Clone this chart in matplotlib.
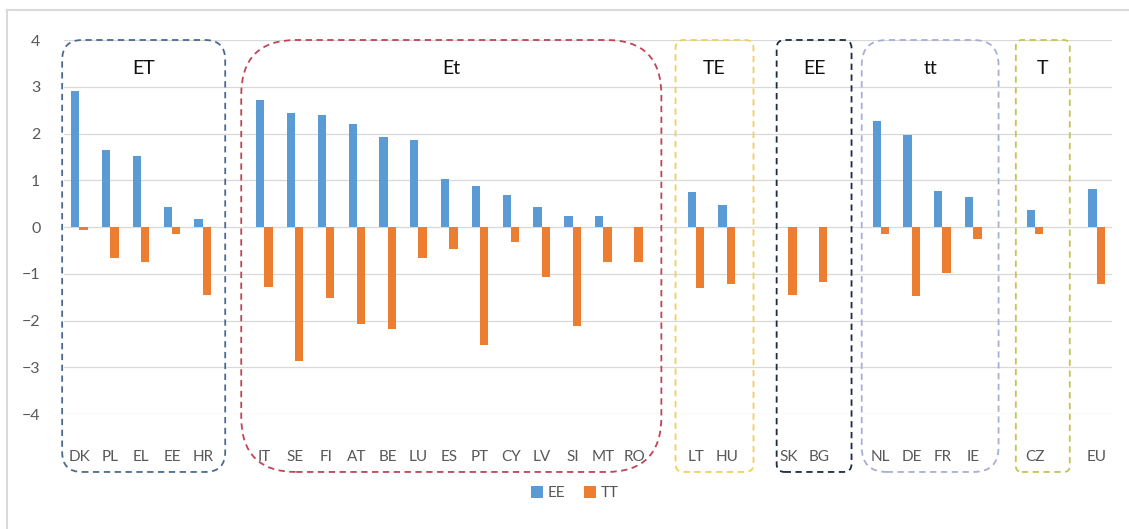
import matplotlib
matplotlib.use('Agg')
import matplotlib.pyplot as plt
from matplotlib.patches import FancyBboxPatch
from matplotlib.lines import Line2D
from matplotlib.transforms import IdentityTransform
import numpy as np

plt.rcParams['font.family'] = ['Lato', 'DejaVu Sans']

# categories ('' = empty gap slot between groups)
countries = ['DK', 'PL', 'EL', 'EE', 'HR', '',
             'IT', 'SE', 'FI', 'AT', 'BE', 'LU', 'ES', 'PT', 'CY', 'LV', 'SI', 'MT', 'RO', '',
             'LT', 'HU', '', 'SK', 'BG', '', 'NL', 'DE', 'FR', 'IE', '', 'CZ', '', 'EU']
ee = [2.91, 1.65, 1.52, 0.43, 0.17, 0,
      2.72, 2.43, 2.40, 2.20, 1.93, 1.86, 1.02, 0.88, 0.68, 0.43, 0.24, 0.24, 0.0, 0,
      0.74, 0.47, 0, 0.0, 0.0, 0, 2.27, 1.97, 0.78, 0.64, 0, 0.36, 0, 0.81]
tt = [-0.06, -0.67, -0.74, -0.14, -1.45, 0,
      -1.28, -2.87, -1.51, -2.08, -2.19, -0.67, -0.46, -2.52, -0.33, -1.08, -2.12, -0.74, -0.74, 0,
      -1.31, -1.21, 0, -1.45, -1.18, 0, -0.14, -1.48, -0.98, -0.26, 0, -0.16, 0, -1.21]

# group boxes: label, x-span in category units, edge colour, corner radius (px)
groups = ['ET', 'Et', 'TE', 'EE', 'tt', 'T']
group_spans = [(-0.56, 4.73), (5.25, 18.88), (19.34, 21.87), (22.62, 25.05), (25.38, 29.82), (30.38, 32.13)]
group_colors = ['#4A6A94', '#BE4456', '#F2CF5B', '#1F2A44', '#A9AED6', '#C3C64F']
group_radius = [20, 55, 8, 8, 25, 6]

W, H = 1129, 529
fig = plt.figure(figsize=(W / 100, H / 100), dpi=100)
ax = fig.add_axes([64 / W, 1 - 414 / H, (1112 - 64) / W, (414 - 40) / H])

x = np.arange(len(countries))
w = 0.27
ax.bar(x - w / 2, ee, w, color='#5B9BD5', label='EE', zorder=3)
ax.bar(x + w / 2, tt, w, color='#ED7D31', label='TT', zorder=3)

ax.set_xlim(-0.5, len(countries) - 0.5)
ax.set_ylim(-4, 4)
ax.set_yticks(range(-4, 5))
ax.set_xticks(x)
ax.set_xticklabels(countries)
ax.grid(axis='y', color='#D9D9D9', linewidth=0.9, zorder=0)
for s in ax.spines.values():
    s.set_visible(False)
ax.tick_params(axis='x', length=0, pad=26, labelsize=11, labelcolor='#595959')
ax.tick_params(axis='y', length=0, pad=17, labelsize=11.5, labelcolor='#595959')

# dashed rounded boxes around the groups (drawn in pixel space)
top_px = ax.transData.transform((0, 4.0))[1]
bot_px = ax.transData.transform((0, -5.24))[1]
for name, (a, b), col, r in zip(groups, group_spans, group_colors, group_radius):
    x0 = ax.transData.transform((a, 0))[0]
    x1 = ax.transData.transform((b, 0))[0]
    box = FancyBboxPatch((x0, bot_px), x1 - x0, top_px - bot_px,
                         boxstyle='round,pad=0,rounding_size=%d' % r,
                         transform=IdentityTransform(), fill=False,
                         edgecolor=col, linewidth=1.3, linestyle=(0, (3.5, 2.5)))
    fig.add_artist(box)
    ax.text((a + b) / 2, 3.4, name, ha='center', va='center', fontsize=14, color='#111111')

# light frame (top and left edge only visible)
fig.add_artist(Line2D([7 / W, 1], [1 - 10 / H] * 2, color='#D9D9D9', linewidth=1.5, transform=fig.transFigure))
fig.add_artist(Line2D([7 / W] * 2, [0, 1 - 10 / H], color='#D9D9D9', linewidth=1.5, transform=fig.transFigure))

fig.legend(loc='center', bbox_to_anchor=(575 / W, 1 - 493 / H), ncol=2, frameon=False,
           handlelength=0.8, handleheight=0.8, handletextpad=0.3, columnspacing=1.2,
           fontsize=11, labelcolor='#595959')

fig.savefig('out.png', dpi=100, facecolor='white')
